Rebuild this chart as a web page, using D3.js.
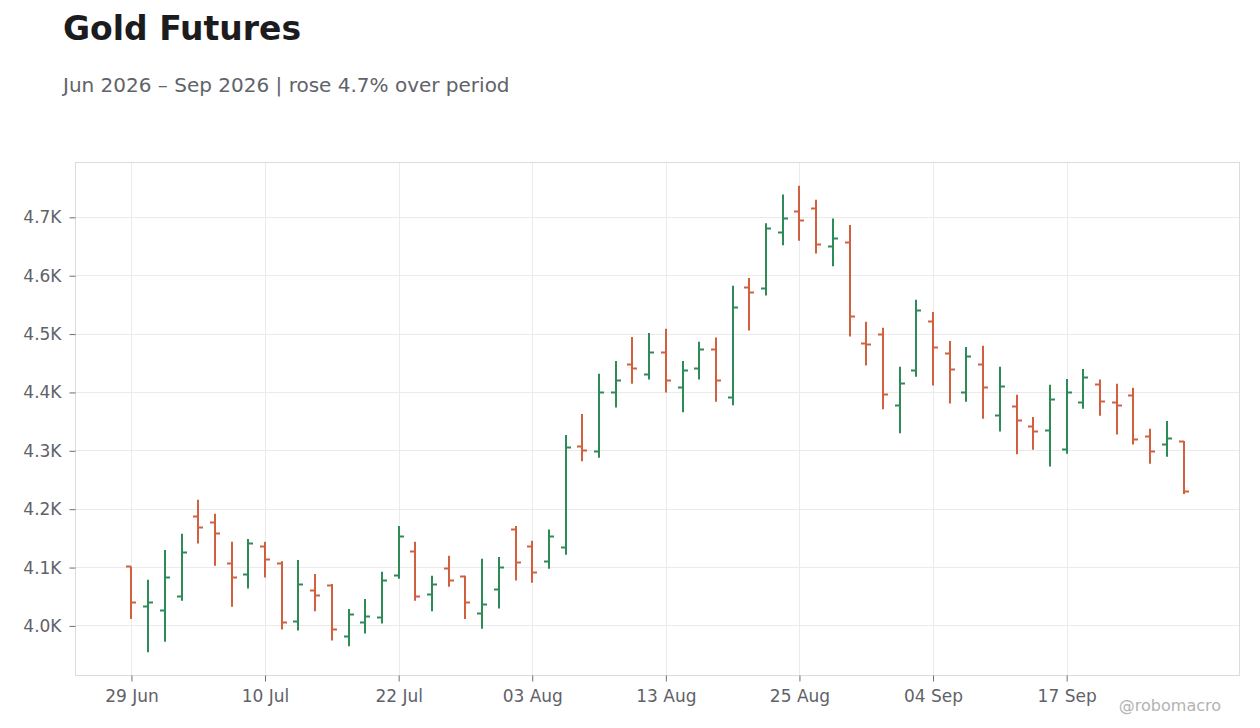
<!DOCTYPE html>
<html>
<head>
<meta charset="utf-8">
<script src="https://cdn.jsdelivr.net/npm/d3@7"></script>
<style>
  body { margin: 0; background: #ffffff; }
  text { font-family: "DejaVu Sans", sans-serif; }
</style>
</head>
<body>
<div id="chart"></div>
<script>

// trading days (US holidays 3 Jul and 7 Sep skipped)
var dates = [
  "2026-06-29","2026-06-30","2026-07-01","2026-07-02","2026-07-06","2026-07-07","2026-07-08","2026-07-09",
  "2026-07-10","2026-07-13","2026-07-14","2026-07-15","2026-07-16","2026-07-17","2026-07-20","2026-07-21",
  "2026-07-22","2026-07-23","2026-07-24","2026-07-27","2026-07-28","2026-07-29","2026-07-30","2026-07-31",
  "2026-08-03","2026-08-04","2026-08-05","2026-08-06","2026-08-07","2026-08-10","2026-08-11","2026-08-12",
  "2026-08-13","2026-08-14","2026-08-17","2026-08-18","2026-08-19","2026-08-20","2026-08-21","2026-08-24",
  "2026-08-25","2026-08-26","2026-08-27","2026-08-28","2026-08-31","2026-09-01","2026-09-02","2026-09-03",
  "2026-09-04","2026-09-08","2026-09-09","2026-09-10","2026-09-11","2026-09-14","2026-09-15","2026-09-16",
  "2026-09-17","2026-09-18","2026-09-21","2026-09-22","2026-09-23","2026-09-24","2026-09-25","2026-09-28"
];

var open = [
  4101,4033,4026,4050,4187,4177,4107,4088,
  4136,4107,4007,4061,4069,3982,4006,4014,
  4086,4127,4054,4098,4084,4021,4062,4165,
  4136,4110,4134,4307,4299,4400,4448,4431,
  4468,4408,4441,4474,4391,4580,4578,4674,
  4710,4715,4650,4657,4484,4499,4378,4437,
  4521,4467,4400,4448,4360,4376,4342,4335,
  4302,4383,4414,4383,4395,4324,4311,4316
];

var high = [
  4102,4079,4130,4158,4216,4192,4144,4149,
  4144,4111,4113,4089,4072,4029,4046,4093,
  4171,4144,4086,4120,4086,4115,4118,4171,
  4146,4165,4327,4363,4432,4454,4495,4502,
  4509,4454,4487,4494,4583,4596,4690,4739,
  4754,4730,4698,4687,4521,4511,4444,4559,
  4538,4488,4478,4480,4444,4396,4358,4413,
  4423,4440,4422,4415,4408,4338,4351,4317
];

var low = [
  4012,3955,3973,4043,4141,4103,4033,4064,
  4083,3994,3992,4025,3975,3965,3987,4004,
  4081,4043,4025,4067,4012,3995,4030,4078,
  4074,4098,4122,4282,4288,4374,4415,4422,
  4400,4366,4422,4384,4378,4506,4566,4652,
  4660,4638,4616,4496,4446,4371,4330,4427,
  4412,4381,4384,4355,4333,4294,4302,4273,
  4295,4372,4360,4328,4311,4278,4290,4226
];

var close = [
  4040,4040,4083,4126,4169,4158,4083,4141,
  4114,4006,4071,4052,3994,4019,4016,4078,
  4153,4050,4071,4078,4040,4036,4100,4108,
  4091,4153,4306,4300,4400,4420,4441,4468,
  4420,4438,4474,4420,4545,4571,4681,4698,
  4695,4653,4664,4530,4482,4397,4415,4540,
  4477,4439,4462,4409,4410,4352,4333,4388,
  4400,4426,4384,4378,4320,4299,4321,4230
];

var yTicks = [4000, 4100, 4200, 4300, 4400, 4500, 4600, 4700];
var title = "Gold Futures";
var subtitle = "Jun 2026 \u2013 Sep 2026 | rose 4.7% over period";
var credit = "@robomacro";

var upColor = "#2e8b57",
    downColor = "#d0603e";

// set the dimensions and margins of the graph
var W = 1260, H = 728;
var margin = {top: 162.5, right: 20.5, bottom: 52.5, left: 75.5},
    width = W - margin.left - margin.right,
    height = H - margin.top - margin.bottom;

var data = dates.map(function(d, i) {
  return {date: d, open: open[i], high: high[i], low: low[i], close: close[i]};
});

var svg = d3.select("#chart")
  .append("svg")
    .attr("width", W)
    .attr("height", H);

// titles
svg.append("text")
  .attr("x", 63)
  .attr("y", 40)
  .style("font-size", "33px")
  .style("font-weight", "bold")
  .style("fill", "#1c1c1f")
  .text(title);

svg.append("text")
  .attr("x", 63)
  .attr("y", 92)
  .style("font-size", "20px")
  .style("fill", "#60636a")
  .text(subtitle);

var g = svg.append("g")
  .attr("transform", "translate(" + margin.left + "," + margin.top + ")");

// X scale: one slot per trading day
var x = d3.scalePoint()
  .domain(dates)
  .range([0, width])
  .padding(3.35);

// pixel-snapped bar centre (stems are 2px wide)
function xc(d) { return Math.round(x(d) + margin.left) - margin.left; }

// Y scale: data range plus 5% each side
var yMin = d3.min(low), yMax = d3.max(high);
var pad = (yMax - yMin) * 0.05;
var y = d3.scaleLinear()
  .domain([yMin - pad, yMax + pad])
  .range([height, 0]);

var xTickVals = dates.filter(function(d, i) { return i % 8 === 0; });
var parse = d3.timeParse("%Y-%m-%d"),
    fmt = d3.timeFormat("%d %b");

// grid
g.append("g")
  .selectAll("line")
  .data(yTicks)
  .enter()
  .append("line")
    .attr("x1", 0)
    .attr("x2", width)
    .attr("y1", function(d) { return Math.round(y(d)); })
    .attr("y2", function(d) { return Math.round(y(d)); })
    .attr("stroke", "#ebebeb");

g.append("g")
  .selectAll("line")
  .data(xTickVals)
  .enter()
  .append("line")
    .attr("x1", function(d) { return xc(d) + 0.5; })
    .attr("x2", function(d) { return xc(d) + 0.5; })
    .attr("y1", 0)
    .attr("y2", height)
    .attr("stroke", "#ebebeb");

// plot frame
g.append("rect")
  .attr("x", 0)
  .attr("y", 0)
  .attr("width", width)
  .attr("height", height)
  .attr("fill", "none")
  .attr("stroke", "#dcdcdc");

// Y axis
var yAxis = g.append("g")
  .call(d3.axisLeft(y)
    .tickValues(yTicks)
    .tickSize(6)
    .tickPadding(8)
    .tickFormat(function(d) { return (d / 1000).toFixed(1) + "K"; }));
yAxis.select(".domain").remove();

// X axis
var xAxis = g.append("g")
  .attr("transform", "translate(0," + height + ")")
  .call(d3.axisBottom(x)
    .tickValues(xTickVals)
    .tickSize(6)
    .tickPadding(8)
    .tickFormat(function(d) { return fmt(parse(d)); }));
xAxis.select(".domain").remove();

g.selectAll(".tick line").attr("stroke", "#6b6e75");
g.selectAll(".tick text")
  .style("font-family", "DejaVu Sans, sans-serif")
  .style("font-size", "17px")
  .style("fill", "#5f6269");

// OHLC bars
var bars = g.append("g")
  .selectAll("g")
  .data(data)
  .enter()
  .append("g")
    .attr("stroke", function(d) { return d.close > d.open ? upColor : downColor; })
    .attr("stroke-width", 2);

bars.append("line")
  .attr("x1", function(d) { return xc(d.date); })
  .attr("x2", function(d) { return xc(d.date); })
  .attr("y1", function(d) { return y(d.high); })
  .attr("y2", function(d) { return y(d.low); });

bars.append("line")
  .attr("x1", function(d) { return xc(d.date) - 5; })
  .attr("x2", function(d) { return xc(d.date); })
  .attr("y1", function(d) { return Math.round(y(d.open)); })
  .attr("y2", function(d) { return Math.round(y(d.open)); });

bars.append("line")
  .attr("x1", function(d) { return xc(d.date); })
  .attr("x2", function(d) { return xc(d.date) + 5; })
  .attr("y1", function(d) { return Math.round(y(d.close)); })
  .attr("y2", function(d) { return Math.round(y(d.close)); });

// credit
svg.append("text")
  .attr("x", 1221)
  .attr("y", 711)
  .attr("text-anchor", "end")
  .style("font-size", "16px")
  .style("fill", "#b3b3b3")
  .text(credit);

</script>
</body>
</html>
